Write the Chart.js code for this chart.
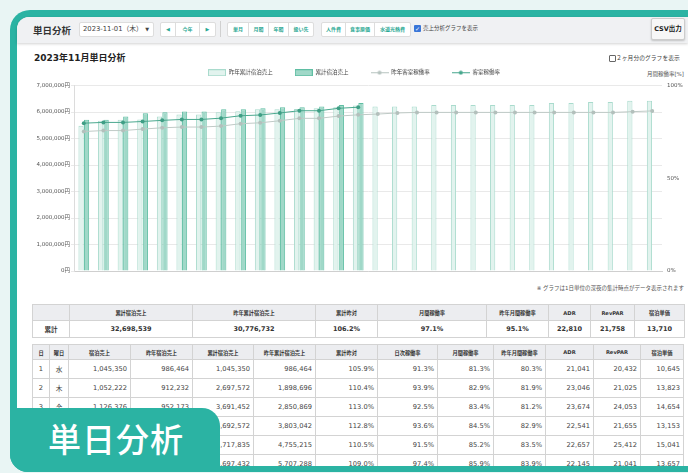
<!DOCTYPE html>
<html lang="ja">
<head>
<meta charset="utf-8">
<title>単日分析</title>
<script src="https://cdn.jsdelivr.net/npm/chart.js@4.4.0/dist/chart.umd.min.js"></script>
<style>
  body { margin:0; width:688px; height:473px; overflow:hidden; position:relative; background:#e9f5f4;
         font-family:"DejaVu Sans","Noto Sans CJK JP",sans-serif; color:#333; }
  .abs { position:absolute; }
  #frame { left:10px; top:10px; width:700px; height:462px; background:#2bb3a3; border-radius:20px 0 0 18px; }
  #page { left:17px; top:17px; width:700px; height:449px; background:#fff; border-radius:12px 0 0 0; }
  #toolbar { left:17px; top:17px; width:671px; height:26px; background:#f0f1f3; border-radius:12px 0 0 0;
             box-shadow:0 1px 3px rgba(0,0,0,.18); }
  .h1 { left:33px; top:23px; font-size:9.5px; font-weight:bold; color:#333; }
  .datebox { left:79px; top:22px; width:70px; height:13px; background:#fff; border:1px solid #ddd; border-radius:2px;
             font-size:6.8px; line-height:13px; color:#444; padding-left:3px; box-sizing:content-box; }
  .datebox span { position:absolute; right:4px; top:0; font-size:5px; }
  .grp { top:22px; height:13px; display:flex; background:#fff; border:1px solid #ddd; border-radius:2px; }
  .grp div { border-left:1px solid #ddd; font-size:5px; line-height:13px; text-align:center; color:#2aa893; font-weight:bold; }
  .grp div:first-child { border-left:none; }
  .sep { left:220px; top:21px; width:1px; height:16px; background:#d0d0d0; }
  .chk { left:414px; top:25px; width:7px; height:7px; background:#3a76d8; border-radius:1px; color:#fff;
         font-size:6px; line-height:7px; text-align:center; }
  .chktxt { left:423px; top:25px; font-size:5.5px; line-height:7px; color:#444; }
  .csv { left:651px; top:18px; width:32px; height:20px; background:#f7f7f7; border:1px solid #ccc; border-radius:2px;
         box-shadow:0 1px 2px rgba(0,0,0,.2); font-size:6.5px; font-weight:bold; line-height:20px; text-align:center; color:#222; }
  .title { left:34px; top:51px; font-size:9px; font-weight:bold; color:#222; }
  .twobox { left:609px; top:55px; width:5px; height:5px; border:1px solid #666; border-radius:1px; }
  .twotxt { left:616px; top:54px; font-size:5.8px; line-height:8px; color:#444; }
  .unit { right:4px; top:70px; font-size:5.5px; line-height:8px; color:#555; }
  .note { right:4px; top:284px; font-size:5.5px; line-height:8px; color:#555; }
  #chart-wrap { left:20px; top:64px; width:668px; height:217px; }
  table { border-collapse:collapse; table-layout:fixed; }
  td, th { border:1px solid #d3d3d3; padding:0; overflow:hidden; white-space:nowrap; }
  th { background:#ecedf0; font-size:5.2px; font-weight:bold; color:#333; text-align:center; }
  #sum { left:32px; top:304px; width:652px; }
  #sum th { height:15px; }
  #sum td { height:16px; font-size:6.5px; font-weight:bold; text-align:center; color:#333; }
  #daywrap { left:32px; top:344px; width:656px; height:122px; overflow:hidden; }
  #day { width:651px; }
  #day th { height:14px; }
  #day td { height:18px; font-size:6.7px; color:#444; text-align:right; padding-right:3px; }
  #day td.c { text-align:center; padding-right:0; }
  #tab { left:10px; top:408px; width:210px; height:64px; background:#2bb3a3; border-radius:0 18px 0 18px; }
  #tab div { position:absolute; left:38px; top:12px; font-family:"Noto Sans CJK JP",sans-serif; font-size:33px;
             font-weight:500; line-height:36px; color:#fff; letter-spacing:1px; }
</style>
</head>
<body>
<div id="frame" class="abs"></div>
<div id="page" class="abs"></div>
<div id="toolbar" class="abs"></div>
<div class="abs h1">単日分析</div>
<div class="abs datebox">2023-11-01（木）<span>▼</span></div>
<div class="abs grp" style="left:160px"><div style="width:14px">◀</div><div style="width:23px">今年</div><div style="width:15px">▶</div></div>
<div class="abs sep"></div>
<div class="abs grp" style="left:227px"><div style="width:20px">単月</div><div style="width:19px">月間</div><div style="width:19px">年間</div><div style="width:24px">扱い先</div></div>
<div class="abs grp" style="left:321px"><div style="width:23px">人件費</div><div style="width:28px">食事原価</div><div style="width:35px">水道光熱費</div></div>
<div class="abs chk">✓</div>
<div class="abs chktxt">売上分析グラフを表示</div>
<div class="abs csv">CSV出力</div>

<div class="abs title">2023年11月単日分析</div>
<div class="abs twobox"></div>
<div class="abs twotxt">２ヶ月分のグラフを表示</div>
<div class="abs unit">月間稼働率[%]</div>
<div id="chart-wrap" class="abs"><canvas id="chart" width="668" height="217"></canvas></div>
<div class="abs note">※ グラフは1日単位の深夜の集計時点がデータ表示されます</div>

<table id="sum" class="abs">
  <colgroup><col style="width:37px"><col style="width:123px"><col style="width:123px"><col style="width:62px"><col style="width:109px"><col style="width:62px"><col style="width:42px"><col style="width:44px"><col style="width:50px"></colgroup>
  <tr id="sumHead"></tr>
  <tr id="sumRow"></tr>
</table>

<div id="daywrap" class="abs">
<table id="day">
  <colgroup><col style="width:17px"><col style="width:19px"><col style="width:62px"><col style="width:62px"><col style="width:61px"><col style="width:62px"><col style="width:62px"><col style="width:60px"><col style="width:56px"><col style="width:52px"><col style="width:48px"><col style="width:47px"><col style="width:43px"></colgroup>
  <thead><tr id="dayHead"></tr></thead>
  <tbody id="dayBody"></tbody>
</table>
</div>

<div id="tab" class="abs"><div>単日分析</div></div>

<script>
// x axis categories
const days = ["11/1", "11/2", "11/3", "11/4", "11/5", "11/6", "11/7", "11/8", "11/9", "11/10",
  "11/11", "11/12", "11/13", "11/14", "11/15", "11/16", "11/17", "11/18", "11/19", "11/20",
  "11/21", "11/22", "11/23", "11/24", "11/25", "11/26", "11/27", "11/28", "11/29", "11/30"]

// 昨年累計宿泊売上 (yen)
const prevCumSales = [5480000, 5670000, 5710000, 5720000, 5830000, 5910000, 5910000, 5990000, 6030000, 6100000,
  6100000, 6110000, 6140000, 6180000, 6250000, 6210000, 6210000, 6210000, 6260000, 6260000,
  6260000, 6260000, 6260000, 6260000, 6340000, 6340000, 6380000, 6380000, 6420000, 6420000]

// 累計宿泊売上 (yen) - only up to 11/15
const cumSales = [5710000, 5710000, 5830000, 5950000, 5990000, 6020000, 6020000, 6100000, 6100000, 6140000,
  6180000, 6180000, 6210000, 6260000, 6340000, null, null, null, null, null,
  null, null, null, null, null, null, null, null, null, null]

// 昨年客室稼働率 (%)
const prevOccRate = [75.2, 75.7, 75.7, 76.5, 77.2, 77.6, 77.6, 78.1, 79.4, 79.9,
  81.0, 82.3, 82.3, 83.5, 84.2, 84.6, 85.2, 85.5, 85.5, 85.5,
  85.5, 85.5, 85.5, 85.5, 85.5, 85.5, 85.5, 85.5, 85.9, 86.3]

// 客室稼働率 (%)
const occRate = [79.7, 80.1, 80.1, 80.6, 81.2, 81.7, 81.7, 82.4, 83.7, 84.1,
  85.2, 86.4, 86.4, 87.7, 88.3, null, null, null, null, null,
  null, null, null, null, null, null, null, null, null, null]

// axis ticks
const salesTicks = [0, 1000000, 2000000, 3000000, 4000000, 5000000, 6000000, 7000000]
const rateTicks = [0, 50, 100]

// summary table
const sumHeaders = ["", "累計宿泊売上", "昨年累計宿泊売上", "累計昨対", "月間稼働率", "昨年月間稼働率", "ADR", "RevPAR", "宿泊単価"]
const sumValues = ["累計", "32,698,539", "30,776,732", "106.2%", "97.1%", "95.1%", "22,810", "21,758", "13,710"]

// daily table
const dayHeaders = ["日", "曜日", "宿泊売上", "昨年宿泊売上", "累計宿泊売上", "昨年累計宿泊売上", "累計昨対", "日次稼働率", "月間稼働率", "昨年月間稼働率", "ADR", "RevPAR", "宿泊単価"]
const dayRows = [
  ["1", "水", "1,045,350", "986,464", "1,045,350", "986,464", "105.9%", "91.3%", "81.3%", "80.3%", "21,041", "20,432", "10,645"],
  ["2", "木", "1,052,222", "912,232", "2,697,572", "1,898,696", "110.4%", "93.9%", "82.9%", "81.9%", "23,046", "21,025", "13,823"],
  ["3", "金", "1,126,376", "952,173", "3,691,452", "2,850,869", "113.0%", "92.5%", "83.4%", "81.2%", "23,674", "24,053", "14,654"],
  ["4", "土", "1,001,120", "952,173", "4,692,572", "3,803,042", "112.8%", "93.6%", "84.5%", "82.9%", "22,541", "21,655", "13,153"],
  ["5", "日", "1,025,263", "952,173", "5,717,835", "4,755,215", "110.5%", "91.5%", "85.2%", "83.5%", "22,657", "25,412", "15,041"],
  ["6", "月", "979,597", "952,073", "6,697,432", "5,707,288", "109.0%", "97.4%", "85.9%", "83.9%", "22,145", "21,041", "13,657"],
]

// build tables
document.getElementById("sumHead").innerHTML = sumHeaders.map((h) => `<th>${h}</th>`).join("")
document.getElementById("sumRow").innerHTML = sumValues.map((v) => `<td>${v}</td>`).join("")
document.getElementById("dayHead").innerHTML = dayHeaders.map((h) => `<th>${h}</th>`).join("")
document.getElementById("dayBody").innerHTML = dayRows
  .map((r) => "<tr>" + r.map((v, i) => `<td${i < 2 ? ' class="c"' : ""}>${v}</td>`).join("") + "</tr>")
  .join("")

const fmtYen = (v) => String(v).replace(/\B(?=(\d{3})+(?!\d))/g, ",") + "円"

// legend icons drawn as small canvases
function boxIcon(fill, stroke) {
  const c = document.createElement("canvas")
  c.width = 18
  c.height = 7
  const g = c.getContext("2d")
  g.fillStyle = fill
  g.fillRect(0, 0, 18, 7)
  g.strokeStyle = stroke
  g.lineWidth = 1
  g.strokeRect(0.5, 0.5, 17, 6)
  return c
}
function lineIcon(color) {
  const c = document.createElement("canvas")
  c.width = 18
  c.height = 5
  const g = c.getContext("2d")
  g.strokeStyle = color
  g.lineWidth = 1
  g.beginPath()
  g.moveTo(0, 2.5)
  g.lineTo(18, 2.5)
  g.stroke()
  g.fillStyle = color
  g.beginPath()
  g.arc(9, 2.5, 2, 0, Math.PI * 2)
  g.fill()
  return c
}
const legendIcons = [
  boxIcon("#e2f3ee", "#a9dbcd"),
  boxIcon("#a0d8c8", "#5fbea3"),
  lineIcon("#b6c3bf"),
  lineIcon("#45a68c"),
]

const tickFont = { family: '"DejaVu Sans","Noto Sans CJK JP"', size: 5.5 }

new Chart(document.getElementById("chart"), {
  data: {
    labels: days,
    datasets: [
      {
        type: "bar",
        label: "昨年累計宿泊売上",
        data: prevCumSales,
        yAxisID: "y",
        backgroundColor: "#e2f3ee",
        borderColor: "#a9dbcd",
        borderWidth: 1,
        categoryPercentage: 0.56,
        barPercentage: 0.95,
        order: 2,
      },
      {
        type: "bar",
        label: "累計宿泊売上",
        data: cumSales,
        yAxisID: "y",
        backgroundColor: "#a0d8c8",
        borderColor: "#5fbea3",
        borderWidth: 1,
        categoryPercentage: 0.56,
        barPercentage: 0.95,
        order: 2,
      },
      {
        type: "line",
        label: "昨年客室稼働率",
        data: prevOccRate,
        yAxisID: "y1",
        borderColor: "#bfcac6",
        backgroundColor: "#b3c0bc",
        borderWidth: 1,
        pointRadius: 2,
        pointBorderWidth: 0,
        order: 1,
      },
      {
        type: "line",
        label: "客室稼働率",
        data: occRate,
        yAxisID: "y1",
        borderColor: "#4aa88e",
        backgroundColor: "#3f9e85",
        borderWidth: 1,
        pointRadius: 2,
        pointBorderWidth: 0,
        order: 0,
      },
    ],
  },
  options: {
    responsive: false,
    animation: false,
    layout: { padding: { top: -16, left: 0, right: 0, bottom: 0 } },
    plugins: {
      tooltip: { enabled: false },
      legend: {
        position: "top",
        labels: {
          font: tickFont,
          color: "#444",
          padding: 22,
          usePointStyle: true,
          pointStyleWidth: 18,
          generateLabels: (chart) => {
            const items = Chart.defaults.plugins.legend.labels.generateLabels(chart)
            items.sort((a, b) => a.datasetIndex - b.datasetIndex)
            items.forEach((it) => {
              it.pointStyle = legendIcons[it.datasetIndex]
            })
            return items
          },
        },
      },
    },
    scales: {
      x: {
        grid: { display: false },
        border: { color: "#cfcfcf" },
        ticks: { font: tickFont, color: "#555", maxRotation: 0, autoSkip: false, padding: 3 },
        afterFit: (s) => {
          s.height = 10
        },
      },
      y: {
        position: "left",
        min: salesTicks[0],
        max: salesTicks[salesTicks.length - 1],
        afterBuildTicks: (s) => {
          s.ticks = salesTicks.map((v) => ({ value: v }))
        },
        ticks: { font: tickFont, color: "#555", padding: 1, callback: (v) => fmtYen(v) },
        grid: { color: "#e9e9e9", tickLength: 3 },
        border: { color: "#dcdcdc" },
        afterFit: (s) => {
          s.width = 54
        },
      },
      y1: {
        position: "right",
        min: rateTicks[0],
        max: rateTicks[rateTicks.length - 1],
        afterBuildTicks: (s) => {
          s.ticks = rateTicks.map((v) => ({ value: v }))
        },
        ticks: { font: tickFont, color: "#555", padding: 5, callback: (v) => v + "%" },
        grid: { drawOnChartArea: false, drawTicks: false },
        border: { display: false },
        afterFit: (s) => {
          s.width = 26
        },
      },
    },
  },
})
</script>
</body>
</html>
